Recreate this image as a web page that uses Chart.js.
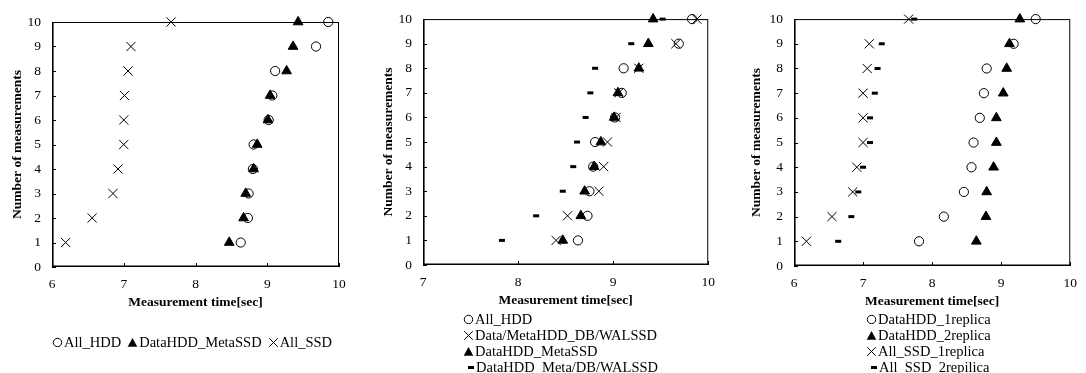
<!DOCTYPE html>
<html><head><meta charset="utf-8">
<script src="https://cdn.jsdelivr.net/npm/chart.js@4"></script>
<style>
html,body{margin:0;padding:0;background:#fff;}
#wrap{position:relative;width:1086px;height:373px;overflow:hidden;background:#fff;}
canvas{position:absolute;top:0;}
.lg{position:absolute;font-family:'Liberation Serif','Times New Roman',serif;font-size:14.5px;color:#000;line-height:16px;white-space:nowrap;}
.lg .it{display:flex;align-items:center;}
.lg.row{display:flex;}
.lg.row .it{margin-right:6px;}
.lg svg{margin-right:1px;flex:none;}
</style></head>
<body>
<div id="wrap">
  <canvas id="c1" width="362" height="373" style="left:0;width:362px;height:373px"></canvas>
  <canvas id="c2" width="362" height="373" style="left:362px;width:362px;height:373px"></canvas>
  <canvas id="c3" width="362" height="373" style="left:724px;width:362px;height:373px"></canvas>
  <div class="lg row" id="lg1" style="left:52px;top:334px"></div>
  <div class="lg" id="lg2" style="left:463px;top:311px"></div>
  <div class="lg" id="lg3" style="left:866px;top:311px"></div>
</div>
<script>
// ---- data ----
const counts = [1, 2, 3, 4, 5, 6, 7, 8, 9, 10];
const yTicks = [0, 1, 2, 3, 4, 5, 6, 7, 8, 9, 10];
// chart 1
const c1AllHDD          = [8.63, 8.73, 8.74, 8.80, 8.81, 9.02, 9.07, 9.11, 9.68, 9.85];
const c1DataHDDMetaSSD  = [8.47, 8.67, 8.70, 8.81, 8.86, 9.01, 9.04, 9.27, 9.36, 9.43];
const c1AllSSD          = [6.19, 6.56, 6.85, 6.92, 7.00, 7.00, 7.01, 7.06, 7.10, 7.66];
// chart 2
const c2AllHDD          = [8.63, 8.73, 8.75, 8.79, 8.81, 9.02, 9.09, 9.11, 9.69, 9.83];
const c2DataMetaHDD_DBWALSSD = [8.40, 8.52, 8.85, 8.90, 8.94, 9.03, 9.06, 9.27, 9.66, 9.88];
const c2DataHDDMetaSSD  = [8.47, 8.66, 8.70, 8.80, 8.87, 9.01, 9.05, 9.27, 9.37, 9.42];
const c2DataHDDMetaDBWALSSD = [7.83, 8.19, 8.47, 8.58, 8.62, 8.71, 8.76, 8.81, 9.19, 9.52];
// chart 3
const c3DataHDD1replica = [7.81, 8.17, 8.46, 8.57, 8.60, 8.69, 8.75, 8.79, 9.18, 9.50];
const c3DataHDD2replica = [8.64, 8.78, 8.79, 8.89, 8.93, 8.93, 9.03, 9.08, 9.12, 9.27];
const c3AllSSD1replica  = [6.18, 6.55, 6.85, 6.91, 7.00, 7.00, 7.00, 7.06, 7.09, 7.66];
const c3AllSSD2repilica = [6.64, 6.83, 6.93, 7.00, 7.10, 7.10, 7.17, 7.21, 7.27, 7.74];

const xTitle = 'Measurement time[sec]';
const yTitle = 'Number of measurements';

// ---- styling ----
const FONT = "'Liberation Serif','Times New Roman',serif";
const STY = {
  circle:   {pointStyle:'circle',   pointRadius:4.6, pointBackgroundColor:'rgba(0,0,0,0)', pointBorderColor:'#000', pointBorderWidth:1},
  triangle: {pointStyle:'triangle', pointRadius:5.6, pointBackgroundColor:'#000', pointBorderColor:'#000', pointBorderWidth:1},
  cross:    {pointStyle:'crossRot', pointRadius:6.5, pointBackgroundColor:'#000', pointBorderColor:'#000', pointBorderWidth:1},
  dash:     {pointStyle:'line',     pointRadius:3,   pointBackgroundColor:'#000', pointBorderColor:'#000', pointBorderWidth:3}
};
const SVG = {
  circle:'<svg width="11" height="10"><circle cx="5.5" cy="5.5" r="4.2" fill="none" stroke="#000" stroke-width="1"/></svg>',
  triangle:'<svg width="11" height="10"><polygon points="5.5,1 10.3,9.8 0.7,9.8" fill="#000"/></svg>',
  cross:'<svg width="11" height="10"><path d="M1.2,1.2L9.8,9.8M9.8,1.2L1.2,9.8" stroke="#000" stroke-width="1"/></svg>',
  dash:'<svg width="10" height="10" style="margin-left:3px;margin-right:0"><rect x="2" y="4" width="6" height="3" fill="#000"/></svg>'
};

const framePlugin = {
  id:'frame',
  beforeDatasetsDraw(chart){
    const {ctx, chartArea:a, scales:{x, y}} = chart;
    ctx.save();
    ctx.strokeStyle = '#000';
    ctx.lineWidth = 1;
    ctx.strokeRect(a.left + 0.5, a.top + 0.5, a.right - a.left - 1, a.bottom - a.top - 1);
    ctx.lineWidth = 1.6;
    ctx.beginPath();
    ctx.moveTo(a.left + 0.8, a.top); ctx.lineTo(a.left + 0.8, a.bottom - 0.8); ctx.lineTo(a.right, a.bottom - 0.8);
    ctx.stroke();
    ctx.lineWidth = 1;
    ctx.beginPath();
    y.ticks.forEach(t => { const p = Math.round(y.getPixelForValue(t.value)) + 0.5; ctx.moveTo(a.left, p); ctx.lineTo(a.left + 4, p); });
    x.ticks.forEach(t => { const p = Math.round(x.getPixelForValue(t.value)) + 0.5; ctx.moveTo(p, a.bottom); ctx.lineTo(p, a.bottom - 4); });
    ctx.stroke();
    ctx.restore();
  }
};

function makeChart(id, series, xmin, xmax, lay) {
  const datasets = series.map((s, i) => Object.assign({
    label: s.label,
    data: s.values.map((v, k) => ({x: v, y: counts[k]})),
    showLine: false,
    clip: false,
    order: s.order
  }, STY[s.marker]));
  return new Chart(document.getElementById(id), {
    type: 'scatter',
    data: {datasets},
    options: {
      responsive: false,
      animation: false,
      events: [],
      layout: {padding: {left: 0, top: lay.top, right: lay.right, bottom: lay.bottom}},
      plugins: {legend: {display: false}, tooltip: {enabled: false}},
      scales: {
        x: {
          type: 'linear', min: xmin, max: xmax,
          grid: {display: false, drawTicks: false}, border: {display: false},
          ticks: {stepSize: 1, padding: 9, color: '#000', font: {family: FONT, size: 13.5}},
          title: {display: true, text: xTitle, color: '#000', font: {family: FONT, size: 13.5, weight: 'bold'}, padding: {top: 0, bottom: 6.8}},
          afterFit(s) { s.height = 50; }
        },
        y: {
          type: 'linear', min: yTicks[0], max: yTicks[yTicks.length - 1],
          grid: {display: false, drawTicks: false}, border: {display: false},
          afterBuildTicks(s) { s.ticks = yTicks.map(v => ({value: v})); },
          ticks: {padding: 11, color: '#000', font: {family: FONT, size: 13.5}},
          title: {display: true, text: yTitle, color: '#000', font: {family: FONT, size: 13.5, weight: 'bold'}, padding: {top: lay.yTitlePad, bottom: 0}},
          afterFit(s) { s.width = lay.yWidth; }
        }
      }
    },
    plugins: [framePlugin]
  });
}

function legend(id, series) {
  const el = document.getElementById(id);
  el.innerHTML = series.map(s => '<div class="it">' + SVG[s.marker] + '<span>' + s.label + '</span></div>').join('');
}

const s1 = [
  {label:'All_HDD', values:c1AllHDD, marker:'circle', order:2},
  {label:'DataHDD_MetaSSD', values:c1DataHDDMetaSSD, marker:'triangle', order:1},
  {label:'All_SSD', values:c1AllSSD, marker:'cross', order:0}
];
const s2 = [
  {label:'All_HDD', values:c2AllHDD, marker:'circle', order:3},
  {label:'Data/MetaHDD_DB/WALSSD', values:c2DataMetaHDD_DBWALSSD, marker:'cross', order:0},
  {label:'DataHDD_MetaSSD', values:c2DataHDDMetaSSD, marker:'triangle', order:1},
  {label:'DataHDD_Meta/DB/WALSSD', values:c2DataHDDMetaDBWALSSD, marker:'dash', order:2}
];
const s3 = [
  {label:'DataHDD_1replica', values:c3DataHDD1replica, marker:'circle', order:3},
  {label:'DataHDD_2replica', values:c3DataHDD2replica, marker:'triangle', order:1},
  {label:'All_SSD_1replica', values:c3AllSSD1replica, marker:'cross', order:0},
  {label:'All_SSD_2repilica', values:c3AllSSD2repilica, marker:'dash', order:2}
];

makeChart('c1', s1, 6, 10, {top:22, right:23, bottom:56, yWidth:52, yTitlePad:9.5});
makeChart('c2', s2, 7, 10, {top:14, right:14, bottom:58, yWidth:61, yTitlePad:18});
makeChart('c3', s3, 6, 10, {top:14, right:7, bottom:57, yWidth:70, yTitlePad:24.5});
legend('lg1', s1);
legend('lg2', s2);
legend('lg3', s3);
</script>
</body></html>
